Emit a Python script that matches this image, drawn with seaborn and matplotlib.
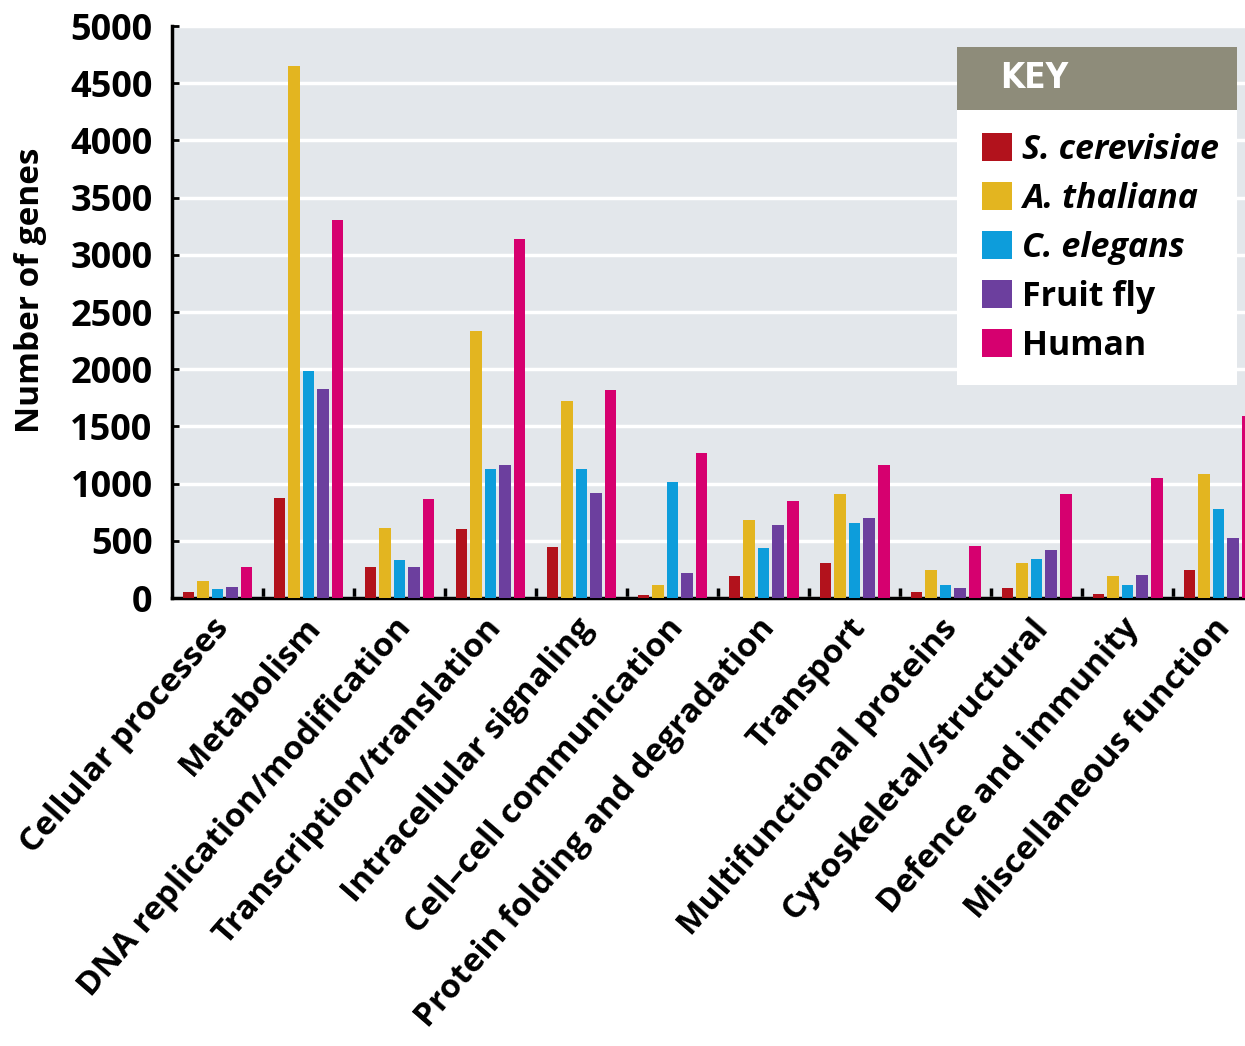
import numpy as np
import pandas as pd
import seaborn as sns
import matplotlib.pyplot as plt
from matplotlib.patches import Rectangle
from matplotlib.transforms import ScaledTranslation


# ---------- DATA ---------- #

categories = [
    "Cellular processes", "Metabolism", "DNA replication/modification",
    "Transcription/translation", "Intracellular signaling",
    "Cell\u2013cell communication", "Protein folding and degradation",
    "Transport", "Multifunctional proteins", "Cytoskeletal/structural",
    "Defence and immunity", "Miscellaneous function",
]
species = ["S. cerevisiae", "A. thaliana", "C. elegans", "Fruit fly", "Human"]

s_cerevisiae = [55, 870, 275, 605, 445, 25, 190, 310, 55, 90, 35, 245]
a_thaliana = [145, 4650, 610, 2335, 1720, 115, 680, 905, 245, 310, 190, 1080]
c_elegans = [75, 1980, 335, 1130, 1130, 1015, 440, 655, 110, 345, 110, 775]
fruit_fly = [100, 1825, 275, 1165, 920, 220, 635, 695, 85, 420, 205, 525]
human = [275, 3300, 865, 3140, 1815, 1265, 850, 1165, 455, 910, 1050, 1590]

colors = ["#b2121c", "#e3b520", "#0d9ddb", "#6c3f9e", "#d6006f"]
yticks = list(range(0, 5001, 500))

wide = pd.DataFrame(dict(zip(species, [s_cerevisiae, a_thaliana, c_elegans, fruit_fly, human])))
wide["category"] = categories
long = wide.melt(id_vars="category", var_name="species", value_name="genes")


# ---------- PLOT ---------- #

plt.rcParams['font.family'] = ['Open Sans', 'DejaVu Sans']
plt.rcParams['font.weight'] = 'bold'

W, H = 1245, 1046
fig = plt.figure(figsize=(W / 100, H / 100), dpi=100)
ax = fig.add_axes([172 / W, 1 - 598 / H, 1 - 172 / W, (598 - 26) / H])

sns.barplot(data=long, x="category", y="genes", hue="species", hue_order=species,
            palette=colors, saturation=1, width=0.8, gap=0.2, ax=ax, zorder=3)

ax.set_facecolor("#e3e7eb")
ax.set_axisbelow(True)
ax.yaxis.grid(True, color="white", lw=2.5)
ax.xaxis.grid(False)
ax.set_xlim(-0.5, 11.29)
ax.set_ylim(0, 5000)
ax.set_yticks(yticks)
ax.tick_params(axis="y", direction="in", length=5, width=2, pad=14, labelsize=26)

ax.set_xticks(range(len(categories)))
ax.set_xticklabels(categories, rotation=49, ha="right", va="center",
                   rotation_mode="anchor", fontsize=24)
ax.tick_params(axis="x", which="major", length=0, pad=18)
ax.set_xticks(np.arange(0.5, len(categories) - 1, 1), minor=True)
ax.tick_params(axis="x", which="minor", direction="in", length=7, width=2.5)
for lab in ax.get_xticklabels():
    lab.set_transform(lab.get_transform() + ScaledTranslation(0.06, 0, fig.dpi_scale_trans))

for s in ["top", "right"]:
    ax.spines[s].set_visible(False)
for s in ["left", "bottom"]:
    ax.spines[s].set_linewidth(2.5)
    ax.spines[s].set_color("black")

ax.set_xlabel("")
ax.set_ylabel("Number of genes", fontsize=24, fontweight="bold", va="center")
ax.yaxis.set_label_coords(-0.132, 0.538)

# key box
old = ax.get_legend()
handles = old.legend_handles
labels = [t.get_text() for t in old.get_texts()]
old.remove()

fig.add_artist(Rectangle((957 / W, 1 - 385 / H), 280 / W, 275 / H, transform=fig.transFigure,
                         facecolor="white", edgecolor="none", zorder=3))
fig.add_artist(Rectangle((957 / W, 1 - 110 / H), 280 / W, 63 / H, transform=fig.transFigure,
                         facecolor="#8e8c7a", edgecolor="none", zorder=3))
fig.text(1000 / W, 1 - 78 / H, "KEY", color="white", fontsize=25, fontweight="heavy",
         family=["DejaVu Sans"], fontstretch="condensed",
         va="center", ha="left", zorder=6)

leg = fig.legend(handles, labels, loc="upper left", bbox_to_anchor=(982 / W, 1 - 133 / H),
                 frameon=False, fontsize=24.5, handlelength=0.88, handleheight=0.88,
                 handletextpad=0.3, labelspacing=0.44, borderpad=0, borderaxespad=0)
for t, lab in zip(leg.get_texts(), labels):
    t.set_fontweight("bold")
    if "." in lab:
        t.set_fontstyle("italic")

plt.savefig("out.png", dpi=100)
plt.close()
